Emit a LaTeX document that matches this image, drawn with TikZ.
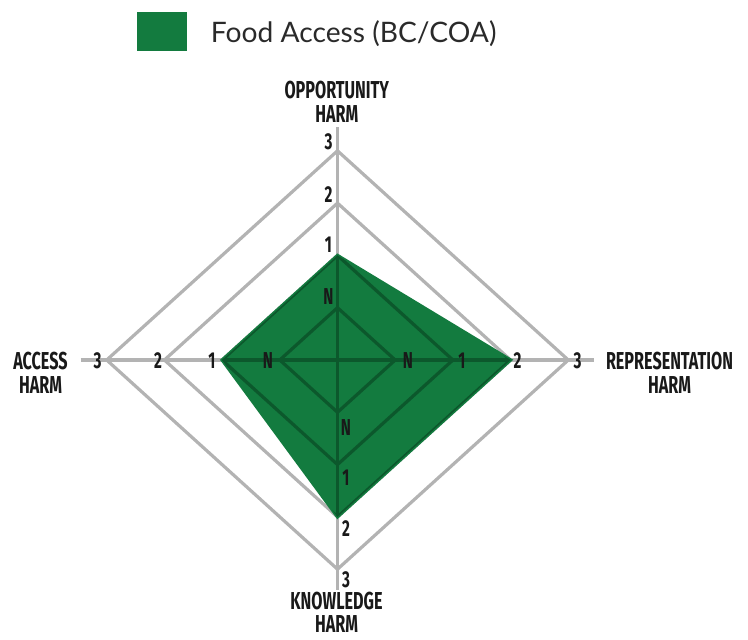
\documentclass[tikz,border=0pt]{standalone}
\usepackage{fontspec}
\newfontfamily\legendfont{Lato}
\newfontfamily\harmfont{Fira Sans}[FakeStretch=0.66]
\definecolor{harmgreen}{HTML}{137B3F}
\definecolor{harmdark}{HTML}{0C582C}
\definecolor{gridgray}{HTML}{B3B3B3}
\definecolor{inkgray}{HTML}{2A2A2A}

\begin{document}
\begin{tikzpicture}[x=1pt,y=-1pt,
  axislabel/.style={font=\harmfont\bfseries\fontsize{24.5}{24}\selectfont, text=black!90, align=center, inner sep=0pt, anchor=north},
  ticklabel/.style={font=\harmfont\bfseries\fontsize{23}{23}\selectfont, text=black!90, inner sep=0pt},
  gridline/.style={line width=3.2pt, line join=miter}]
\useasboundingbox (0,0) rectangle (748,640);

% legend
\fill [harmgreen] (137,12) rectangle (187,51);
\node (legend) [font=\legendfont\fontsize{28.2}{28.2}\selectfont, text=inkgray, inner sep=0pt, anchor=base west] at (210.7,42.3) {Food Access (BC/COA)};

\begin{scope}[shift={(337.5,360)}, x=57.7pt, y=52.3pt]
\draw [gridline, gridgray] (-4.45,0) -- (4.45,0);
\draw [gridline, gridgray] (0,4.45) -- (0,-4.4);
\draw [gridline, gridgray] (1,0) -- (0,1) -- (-1,0) -- (0,-1) -- cycle;
\draw [gridline, gridgray] (2,0) -- (0,2) -- (-2,0) -- (0,-2) -- cycle;
\draw [gridline, gridgray] (3,0) -- (0,3) -- (-3,0) -- (0,-3) -- cycle;
\draw [gridline, gridgray] (4,0) -- (0,4) -- (-4,0) -- (0,-4) -- cycle;

% food access scores
\filldraw [gridline, harmgreen] (0,2) -- (3,0) -- (0,-3) -- (-2,0) -- cycle;
\begin{scope}
\clip (0,2) -- (3,0) -- (0,-3) -- (-2,0) -- cycle;
\draw [gridline, harmdark] (-4.45,0) -- (4.45,0);
\draw [gridline, harmdark] (0,4.45) -- (0,-4.45);
\draw [gridline, harmdark] (1,0) -- (0,1) -- (-1,0) -- (0,-1) -- cycle;
\draw [gridline, harmdark] (2,0) -- (0,2) -- (-2,0) -- (0,-2) -- cycle;
\draw [gridline, harmdark] (3,0) -- (0,3) -- (-3,0) -- (0,-3) -- cycle;
\end{scope}
\end{scope}

% axis names
\node (opportunity) [axislabel] at (336.8,80.7) {OPPORTUNITY\\HARM};
\node (access) [axislabel] at (40.5,351.7) {ACCESS\\HARM};
\node (representation) [axislabel] at (669.5,351.7) {REPRESENTATION\\HARM};
\node (knowledge) [axislabel, text depth=0pt, font=\harmfont\bfseries\fontsize{24.5}{23}\selectfont] at (336.5,592) {KNOWLEDGE\\HARM};

% scale marks
\node (topN) [ticklabel] at (328.5,297) {N};
\node (top1) [ticklabel] at (328.5,245) {1};
\node (top2) [ticklabel] at (328.5,194.5) {2};
\node (top3) [ticklabel] at (328.5,141.5) {3};
\node (botN) [ticklabel] at (346,427.5) {N};
\node (bot1) [ticklabel] at (346,477.5) {1};
\node (bot2) [ticklabel] at (346,528.5) {2};
\node (bot3) [ticklabel] at (346,579.5) {3};
\node (leftN) [ticklabel] at (268,360.5) {N};
\node (left1) [ticklabel] at (212,360.5) {1};
\node (left2) [ticklabel] at (158,360.5) {2};
\node (left3) [ticklabel] at (97.5,360.5) {3};
\node (rightN) [ticklabel] at (408,360.5) {N};
\node (right1) [ticklabel] at (462,360.5) {1};
\node (right2) [ticklabel] at (517.5,360.5) {2};
\node (right3) [ticklabel] at (577.5,360.5) {3};

\end{tikzpicture}
\end{document}
